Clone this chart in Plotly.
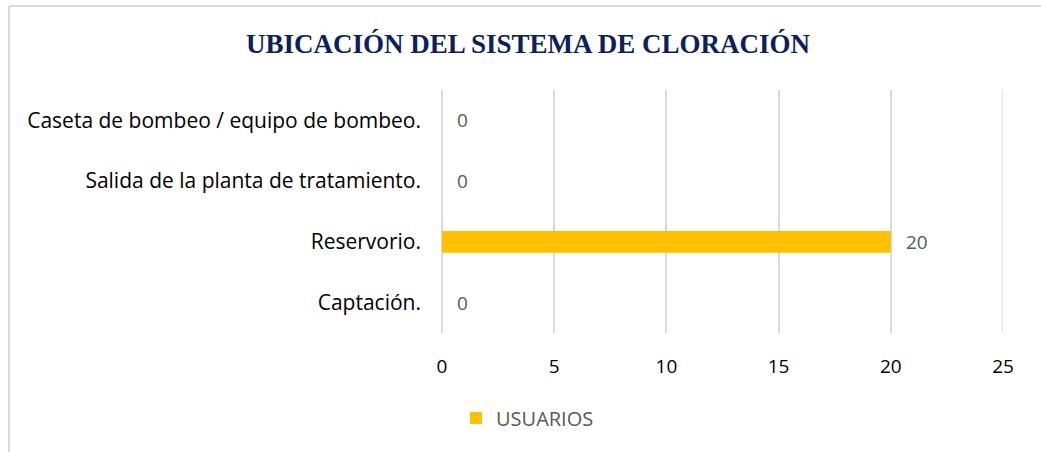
import plotly.graph_objects as go

# Categories (bottom to top) and counts of users per chlorination location
categories = [
    "Captación.",
    "Reservorio.",
    "Salida de la planta de tratamiento.",
    "Caseta de bombeo / equipo de bombeo.",
]
usuarios = [0, 20, 0, 0]
x_ticks = [0, 5, 10, 15, 20, 25]

W, H = 1041, 452
ML, MR, MT, MB = 442, 38, 90, 119
PW, PH = W - ML - MR, H - MT - MB


def px_x(p):
    return (p - ML) / PW


def px_y(p):
    return 1 - (p - MT) / PH


fig = go.Figure()
fig.add_trace(go.Bar(
    x=usuarios,
    y=categories,
    orientation="h",
    name="USUARIOS",
    marker=dict(color="#FFC000", line=dict(width=0)),
    width=0.36,
))

# Value labels beside each bar
for v, c in zip(usuarios, categories):
    fig.add_annotation(
        x=v, y=c, xref="x", yref="y", text=str(v), showarrow=False,
        xanchor="left", xshift=13,
        font=dict(family="Open Sans", size=19, color="#595959"),
    )

# Gridline at the right end of the axis range
fig.add_shape(type="line", xref="x", yref="paper",
              x0=x_ticks[-1], x1=x_ticks[-1], y0=0, y1=1,
              line=dict(color="#D9D9D9", width=1.5), layer="below")

# Chart frame (top and left edges)
fig.add_shape(type="line", xref="paper", yref="paper",
              x0=px_x(9), x1=px_x(W + 5), y0=px_y(6), y1=px_y(6),
              line=dict(color="#D9D9D9", width=2))
fig.add_shape(type="line", xref="paper", yref="paper",
              x0=px_x(9), x1=px_x(9), y0=px_y(6), y1=px_y(H + 5),
              line=dict(color="#D9D9D9", width=2))

fig.update_layout(
    width=W, height=H,
    margin=dict(l=ML, r=MR, t=MT, b=MB, autoexpand=False),
    paper_bgcolor="white", plot_bgcolor="white",
    title=dict(
        text="<b>UBICACIÓN DEL SISTEMA DE CLORACIÓN</b>",
        x=528 / W, xref="container", xanchor="center",
        y=1 - 44 / H, yref="container", yanchor="middle",
        font=dict(family="Liberation Serif", size=27, color="#0B215E"),
    ),
    xaxis=dict(
        range=[0, 25], tickvals=x_ticks, showgrid=True,
        gridcolor="#D9D9D9", gridwidth=1.5,
        zeroline=True, zerolinecolor="#D9D9D9", zerolinewidth=1.5,
        showline=False, ticks="",
        tickfont=dict(family="Open Sans", size=19, color="#000000"),
        ticklabelstandoff=20,
    ),
    yaxis=dict(
        categoryorder="array", categoryarray=categories,
        showgrid=False, zeroline=False, showline=False, ticks="",
        tickfont=dict(family="Open Sans", size=21, color="#000000"),
        ticklabelstandoff=20,
    ),
    showlegend=True,
    legend=dict(
        orientation="h", xref="container", yref="container",
        x=456 / W, xanchor="left", y=1 - 418 / H, yanchor="middle",
        font=dict(family="Open Sans", size=20, color="#595959"),
    ),
)

fig.write_html("out.html")
